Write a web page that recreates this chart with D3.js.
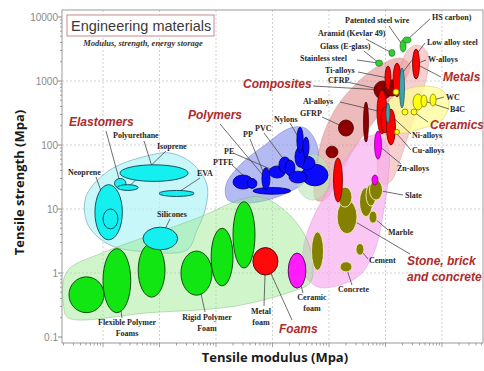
<!DOCTYPE html>
<html>
<head>
<meta charset="utf-8">
<script src="https://cdn.jsdelivr.net/npm/d3@7"></script>
<style>
  html, body { margin: 0; padding: 0; background: #fff; }
  svg { display: block; }
</style>
</head>
<body>
<svg id="chart" width="484" height="371"></svg>
<script>
// ---- Axis ticks -------------------------------------------------------
const strengthTicks = [0.1, 1, 10, 100, 1000, 10000];
const strengthTickLabels = ["0.1", "1", "10", "100", "1000", "10000"];
const modulusGrid = [1, 10, 100, 1e3, 1e4, 1e5, 1e6];

// ---- Material property bubbles: modulus range E and strength range S, MPa ----
const foams = [
  { name: "Flexible foam VLD", E: [0.25, 1.04], S: [0.24, 0.87] },
  { name: "Flexible foam LD",  E: [1, 3.1],     S: [0.24, 2.4] },
  { name: "Flexible foam MD",  E: [4.2, 12.5],  S: [0.42, 2.9] },
  { name: "Rigid foam LD",     E: [24, 85],     S: [0.45, 2.2] },
  { name: "Rigid foam MD",     E: [82, 200],    S: [0.63, 5] },
  { name: "Rigid foam HD",     E: [200, 490],   S: [1.2, 13] }
];
const metalFoams   = [{ name: "Metal foam",   E: [450, 1250],  S: [0.93, 2.5] }];
const ceramicFoams = [{ name: "Ceramic foam", E: [1900, 3900], S: [0.58, 2.05] }];

const elastomers = [
  { name: "Neoprene",       E: [0.72, 2.2], S: [3.3, 24] },
  { name: "Natural rubber", E: [1, 1.84],   S: [4.9, 10] },
  { name: "Polyurethane",   E: [2, 32],     S: [27, 49] },
  { name: "Butyl rubber",   E: [1.6, 2.55], S: [21, 30] },
  { name: "Isoprene",       E: [1.8, 4.2],  S: [19.5, 24] },
  { name: "EVA",            E: [9.8, 41],   S: [15.7, 19.5] },
  { name: "Silicones",      E: [5.1, 21],   S: [2.3, 5.2] }
];

const polymers = [
  { name: "Epoxies", E: [3300, 9600], S: [23, 50] },
  { name: "PTFE",    E: [200, 450],   S: [20.5, 34] },
  { name: "Ionomer", E: [355, 530],   S: [21, 30] },
  { name: "LDPE",    E: [450, 2100],  S: [17, 21.7] },
  { name: "PE",      E: [870, 1670],  S: [30.5, 47] },
  { name: "PP",      E: [650, 900],   S: [20, 44] },
  { name: "ABS",     E: [1300, 2100], S: [36.5, 65] },
  { name: "PVC",     E: [1670, 2500], S: [33, 58] },
  { name: "PS",      E: [1960, 4080], S: [25.5, 39] },
  { name: "PC",      E: [2950, 5650], S: [41, 67] },
  { name: "PMMA",    E: [2500, 3760], S: [45, 93] },
  { name: "Nylons",  E: [2700, 3500], S: [75, 190] },
  { name: "PEEK",    E: [3470, 4430], S: [65, 133] }
];

const stones = [
  { name: "Brick",     E: [4900, 8000],   S: [1.1, 4.4] },
  { name: "Limestone", E: [13900, 31300], S: [4.1, 13.8] },
  { name: "Sandstone", E: [14400, 25500], S: [10.7, 22] },
  { name: "Granite",   E: [34700, 58900], S: [7.6, 21.7] },
  { name: "Stone",     E: [45200, 67900], S: [11.1, 24.6] },
  { name: "Slate",     E: [52100, 88500], S: [13.8, 28.4] },
  { name: "Marble",    E: [51000, 70800], S: [6.0, 9.3] },
  { name: "Cement",    E: [30000, 41600], S: [1.9, 2.9] },
  { name: "Concrete",  E: [15700, 25500], S: [1.04, 1.5] }
];

const composites = [
  { name: "CFRP",        E: [62500, 130000], S: [523, 1000] },
  { name: "CFRP woven",  E: [94000, 181000], S: [583, 1040] },
  { name: "GFRP",        E: [14700, 27100],  S: [138, 246] },
  { name: "GFRP mat",    E: [8850, 14400],   S: [63, 96] },
  { name: "KFRP",        E: [40800, 50000],  S: [111, 470] }
];

const metals = [
  { name: "W-alloys",        E: [301000, 400000], S: [1075, 3160] },
  { name: "Low alloy steel", E: [136000, 188000], S: [562, 1910] },
  { name: "Ti-alloys",       E: [98000, 125000],  S: [723, 1715] },
  { name: "Al-alloys",       E: [70800, 106000],  S: [149, 723] },
  { name: "Cast irons",      E: [83200, 115000],  S: [154, 393] },
  { name: "Cu-alloys",       E: [104000, 150000], S: [100, 365] },
  { name: "Lead alloys",     E: [12000, 17300],   S: [12.9, 62.6] }
];
const steels = [
  { name: "Stainless steel", E: [177000, 217000], S: [379, 1600] },
  { name: "Ni-alloys",       E: [102000, 120000], S: [221, 453] }
];
const zincAlloys = [
  { name: "Zn-alloys",    E: [63900, 84900], S: [60, 166] },
  { name: "Zn die-cast",  E: [57700, 73600], S: [23.7, 34] }
];
const fibres = [
  { name: "Glass (E-glass)",     E: [66500, 88500],   S: [1700, 2130] },
  { name: "Aramid (Kevlar 49)",  E: [115000, 147000], S: [2420, 3100] },
  { name: "Patented steel wire", E: [181000, 231000], S: [2840, 4380] },
  { name: "HS carbon",           E: [204000, 283000], S: [3930, 4870] }
];
const ceramics = [
  { name: "Alumina",       E: [307000, 461000], S: [352, 627] },
  { name: "B4C",           E: [425000, 543000], S: [393, 604] },
  { name: "WC",            E: [613000, 783000], S: [407, 627] },
  { name: "Silicon",       E: [196000, 250000], S: [294, 365] },
  { name: "SiC",           E: [283000, 361000], S: [294, 365] },
  { name: "Zirconia",      E: [136000, 173000], S: [604, 750] },
  { name: "Glass ceramic", E: [144000, 177000], S: [146, 175] }
];

// ---- Family envelopes: outline points [modulus, strength], MPa ----
const elastomerZone = [[0.48,13.8],[0.665,23.7],[1.5,43.7],[5.1,65],[15.3,75],[39.2,50.5],[69.3,23.7],[64,9.65],[46.1,4.69],[30.7,2.29],[6.8,2.13],[1.33,2.74],[0.543,5.62]];
const polymerZone = [[163,13.8],[150,23.7],[266,48.7],[736,100],[2040,184],[3760,184],[5890,111],[6390,54.2],[3760,26.4],[1360,16],[400,12.4]];
const compositeZone = [[181000,2290],[272000,1780],[221000,1040],[120000,505],[65200,246],[35400,120],[19200,48.7],[12800,23.7],[8490,13.8],[5890,13.8],[5430,28.4],[6390,69.8],[8490,171],[14400,422],[28800,866],[65200,1600]];
const metalZone = [[361000,3650],[543000,2840],[565000,1490],[408000,505],[272000,171],[181000,58.3],[130000,28.4],[94000,23.7],[73600,34],[73600,83.5],[90300,246],[130000,723],[196000,1980],[250000,3050]];
const stoneZone = [[3760,0.93],[3470,2.29],[5000,6.73],[9600,19.8],[19200,58.3],[38400,120],[73600,143],[111000,89.8],[111000,28.4],[90300,8.06],[65200,2.29],[35400,0.93],[15700,0.649],[6390,0.604]];
const ceramicZone = [[106000,246],[120000,505],[221000,723],[500000,835],[1.0e6,723],[1.33e6,453],[1.0e6,246],[408000,178],[181000,154]];
const foamZone = [[0.2,0.31],[0.2,0.78],[0.26,1.2],[0.89,2.0],[10,4.4],[52,7.5],[270,14],[650,15.4],[2000,8.1],[4100,3.3],[5200,1.33],[4600,0.7],[2000,0.5],[200,0.3],[6.8,0.24],[0.24,0.2]];
const naturalZone = { E: [2600, 10400], S: [13.8, 72] };

// ---- Layout ----
const frame = { left: 62, right: 483, top: 10, bottom: 343 };

const svg = d3.select("#chart");
const x = d3.scaleLog().domain([1, 1e6]).range([103, 442]);
const y = d3.scaleLog().domain([0.1, 10000]).range([337, 17]);

svg.append("defs").append("clipPath").attr("id", "plotClip")
  .append("rect")
  .attr("x", frame.left).attr("y", frame.top)
  .attr("width", frame.right - frame.left).attr("height", frame.bottom - frame.top);

// grid
const grid = svg.append("g").attr("stroke", "#c4c4c4").attr("stroke-width", 0.8)
  .attr("stroke-dasharray", "2,2");
grid.selectAll("line.h").data(strengthTicks.slice(1, -1)).join("line")
  .attr("x1", frame.left).attr("x2", frame.right)
  .attr("y1", d => y(d)).attr("y2", d => y(d));
grid.selectAll("line.v").data(modulusGrid).join("line")
  .attr("y1", frame.top).attr("y2", frame.bottom)
  .attr("x1", d => x(d)).attr("x2", d => x(d));

const plot = svg.append("g").attr("clip-path", "url(#plotClip)");

// envelopes
const outline = d3.line()
  .x(d => x(d[0])).y(d => y(d[1]))
  .curve(d3.curveCatmullRomClosed.alpha(0.5));

function zone(points, fill, stroke) {
  plot.append("path").attr("d", outline(points))
    .attr("fill", fill).attr("stroke", stroke).attr("stroke-width", 0.7);
}
zone(elastomerZone, "rgba(182,244,248,0.75)", "rgba(90,150,170,0.8)");
zone(polymerZone,   "rgba(140,150,235,0.65)", "rgba(110,120,200,0.7)");
zone(compositeZone, "rgba(222,132,132,0.55)", "rgba(200,120,120,0.5)");
zone(metalZone,     "rgba(242,168,168,0.55)", "rgba(210,130,130,0.5)");
zone(stoneZone,     "rgba(248,172,240,0.68)", "rgba(215,140,210,0.6)");
zone(ceramicZone,   "rgba(255,252,150,0.75)", "rgba(200,200,110,0.7)");
zone(foamZone,      "rgba(150,232,140,0.45)", "rgba(110,180,110,0.6)");

function bubble(d) {
  const x0 = x(d.E[0]), x1 = x(d.E[1]), y0 = y(d.S[1]), y1 = y(d.S[0]);
  return { cx: (x0 + x1) / 2, cy: (y0 + y1) / 2, rx: (x1 - x0) / 2, ry: (y1 - y0) / 2 };
}
{
  const b = bubble(naturalZone);
  plot.append("ellipse").attr("cx", b.cx).attr("cy", b.cy).attr("rx", b.rx).attr("ry", b.ry)
    .attr("fill", "rgba(185,228,185,0.6)").attr("stroke", "rgba(140,190,140,0.6)").attr("stroke-width", 0.6);
}

// lookup of every bubble by name
const allMaterials = [].concat(foams, metalFoams, ceramicFoams, elastomers, polymers,
  stones, composites, metals, steels, zincAlloys, fibres, ceramics);
const byName = new Map(allMaterials.map(d => [d.name, d]));

// ---- Annotations: label text, text anchor, leader start, target bubble ----
const annotations = [
  { lines: ["Polyurethane"], at: [113, 138], from: [144, 141], to: "Polyurethane" },
  { lines: ["Isoprene"], at: [157, 149], from: [166, 151], to: "Isoprene" },
  { lines: ["Neoprene"], at: [68, 175], from: [96, 177], to: "Neoprene" },
  { lines: ["EVA"], at: [197, 176], from: [200, 178], to: "EVA" },
  { lines: ["Silicones"], at: [157, 217], from: [170, 219], to: "Silicones" },
  { lines: ["PE"], at: [224, 154], from: [233, 153], to: "PE" },
  { lines: ["PTFE"], at: [213, 165], from: [232, 165], to: "Ionomer" },
  { lines: ["PP"], at: [243, 137], from: [250, 139], to: "PP" },
  { lines: ["PVC"], at: [255, 131], from: [264, 133], to: "PVC" },
  { lines: ["Nylons"], at: [274, 122], from: [290, 123], to: "Nylons" },
  { lines: ["Patented steel wire"], at: [345, 23], from: [389, 26], to: "Patented steel wire" },
  { lines: ["HS carbon)"], at: [432, 20], from: [430, 19], to: "HS carbon" },
  { lines: ["Aramid (Kevlar 49)"], at: [318, 36], from: [366, 39], to: "Aramid (Kevlar 49)" },
  { lines: ["Glass (E-glass)"], at: [320, 49], from: [364, 51], to: "Glass (E-glass)" },
  { lines: ["Stainless steel"], at: [300, 61], from: [357, 60], to: "Glass (E-glass)" },
  { lines: ["Ti-alloys"], at: [325, 73], from: [358, 72], to: "Ti-alloys" },
  { lines: ["CFRP"], at: [328, 83], from: [347, 82], to: "CFRP" },
  { lines: ["Al-alloys"], at: [303, 104], from: [340, 102], to: "Al-alloys" },
  { lines: ["GFRP"], at: [300, 116], from: [322, 117], to: "GFRP" },
  { lines: ["Low alloy steel"], at: [427, 45], from: [425, 43], to: "Low alloy steel" },
  { lines: ["W-alloys"], at: [428, 62], from: [426, 60], to: "W-alloys" },
  { lines: ["WC"], at: [446, 100], from: [444, 97], to: "WC" },
  { lines: ["B4C"], at: [450, 112], from: [449, 109], to: "B4C" },
  { lines: ["Ni-alloys"], at: [412, 138], from: [411, 134], to: "Ni-alloys" },
  { lines: ["Cu-alloys"], at: [412, 153], from: [411, 150], to: "Cu-alloys" },
  { lines: ["Zn-alloys"], at: [397, 171], from: [401, 164], to: "Zn-alloys" },
  { lines: ["Slate"], at: [405, 198], from: [403, 195], to: "Slate" },
  { lines: ["Marble"], at: [388, 235], from: [388, 230], to: "Marble" },
  { lines: ["Cement"], at: [369, 263], from: [368, 259], to: "Cement" },
  { lines: ["Concrete"], at: [338, 292], from: [352, 285], to: "Concrete" },
  { lines: ["Flexible Polymer", "Foams"], at: [127, 325], middle: true, from: [122, 318], to: "Flexible foam LD" },
  { lines: ["Rigid Polymer", "Foam"], at: [207, 320], middle: true, from: [205, 312], to: "Rigid foam LD" },
  { lines: ["Metal", "foam"], at: [261, 314], middle: true, from: [264, 306], to: "Metal foam" },
  { lines: ["Ceramic", "foam"], at: [312, 300], middle: true, from: [303, 293], to: "Ceramic foam" }
];
const families = [
  { lines: ["Elastomers"], at: [69, 126], from: [106, 131], to: "Butyl rubber" },
  { lines: ["Polymers"], at: [188, 119], from: [220, 124], to: "PP" },
  { lines: ["Composites"], at: [243, 88], from: [313, 86], to: "CFRP" },
  { lines: ["Metals"], at: [443, 81], from: [441, 77], to: "W-alloys" },
  { lines: ["Ceramics"], at: [430, 129], from: [428, 122], to: "SiC" },
  { lines: ["Stone, brick", "and concrete"], at: [407, 265], from: [410, 254], to: "Limestone" },
  { lines: ["Foams"], at: [279, 333], from: [292, 320], to: "Metal foam" }
];

// leader lines (beneath the bubbles, so they stop at each bubble's edge)
const leaders = svg.append("g").attr("stroke", "#4a4a4a").attr("stroke-width", 0.8);
annotations.concat(families).forEach(a => {
  const b = bubble(byName.get(a.to));
  leaders.append("line")
    .attr("x1", a.from[0]).attr("y1", a.from[1])
    .attr("x2", b.cx).attr("y2", b.cy);
});

// bubbles
function drawBubbles(data, fill, stroke, width) {
  svg.append("g").attr("clip-path", "url(#plotClip)")
    .selectAll("ellipse").data(data).join("ellipse")
    .each(function (d) {
      const b = bubble(d);
      d3.select(this).attr("cx", b.cx).attr("cy", b.cy).attr("rx", b.rx).attr("ry", b.ry);
    })
    .attr("fill", fill).attr("stroke", stroke).attr("stroke-width", width);
}
drawBubbles(foams, "#12e612", "#0a3a0a", 0.9);
drawBubbles(metalFoams, "#ff0a0a", "#4a0000", 0.9);
drawBubbles(ceramicFoams, "#ff1cff", "#4a004a", 0.9);
drawBubbles(elastomers, "#14f0f0", "#0b4050", 0.9);
drawBubbles(polymers, "#0a0aff", "#000060", 0.8);
drawBubbles(stones, "#858000", "#eef0b8", 0.9);
drawBubbles(composites, "#8e0000", "#500000", 0.8);
drawBubbles(metals, "#ff0000", "#600000", 0.8);
drawBubbles(steels, "#3aa6b0", "#1b4c55", 0.7);
drawBubbles(zincAlloys, "#ff00ff", "#600060", 0.7);
drawBubbles(fibres, "#2fd02f", "#176017", 0.6);
drawBubbles(ceramics, "#ffff10", "#808000", 0.8);

// label text
function drawLabel(a, cls) {
  const t = svg.append("text").attr("class", cls)
    .attr("x", a.at[0]).attr("y", a.at[1])
    .attr("text-anchor", a.middle ? "middle" : "start");
  a.lines.forEach((s, i) => {
    t.append("tspan").attr("x", a.at[0]).attr("dy", i === 0 ? 0 : (cls === "fam" ? 16 : 11)).text(s);
  });
}
annotations.forEach(a => drawLabel(a, "mat"));
families.forEach(a => drawLabel(a, "fam"));

svg.selectAll("text.mat")
  .attr("font-family", "'Liberation Serif', 'DejaVu Serif', serif")
  .attr("font-weight", "bold").attr("font-size", 8).attr("fill", "#262626");
svg.selectAll("text.fam")
  .attr("font-family", "'Liberation Sans', Arial, sans-serif")
  .attr("font-weight", "bold").attr("font-style", "italic")
  .attr("font-size", 12).attr("fill", "#ad2b2b");

// frame and axes
svg.append("rect")
  .attr("x", frame.left).attr("y", frame.top)
  .attr("width", frame.right - frame.left).attr("height", frame.bottom - frame.top)
  .attr("fill", "none").attr("stroke", "#9a9a9a").attr("stroke-width", 1);

const yMinor = [];
for (let e = -1; e < 4; e++) for (let m = 2; m < 10; m++) yMinor.push(m * Math.pow(10, e));
const xMinor = [];
for (let e = -1; e < 7; e++) for (let m = 1; m < 10; m++) {
  const v = m * Math.pow(10, e);
  if (x(v) >= frame.left && x(v) <= frame.right) xMinor.push(v);
}

const yAxis = svg.append("g").attr("transform", `translate(${frame.left},0)`);
yAxis.selectAll("line.minor").data(yMinor).join("line")
  .attr("x1", -2).attr("x2", 0).attr("y1", d => y(d)).attr("y2", d => y(d))
  .attr("stroke", "#8a8a8a").attr("stroke-width", 0.8);
yAxis.selectAll("line.major").data(strengthTicks).join("line")
  .attr("x1", -4).attr("x2", 0).attr("y1", d => y(d)).attr("y2", d => y(d))
  .attr("stroke", "#8a8a8a").attr("stroke-width", 1);
yAxis.selectAll("text").data(strengthTicks).join("text")
  .attr("x", -4).attr("y", d => y(d)).attr("dy", "0.35em")
  .attr("text-anchor", "end")
  .attr("font-family", "'Liberation Sans', Arial, sans-serif")
  .attr("font-size", 10).attr("fill", "#8a8a8a")
  .text((d, i) => strengthTickLabels[i]);

const xAxis = svg.append("g").attr("transform", `translate(0,${frame.bottom})`);
xAxis.selectAll("line").data(xMinor).join("line")
  .attr("x1", d => x(d)).attr("x2", d => x(d))
  .attr("y1", 0).attr("y2", d => (modulusGrid.includes(d) ? 4 : 2.5))
  .attr("stroke", "#8a8a8a").attr("stroke-width", 0.8);

// title box
svg.append("rect").attr("x", 67).attr("y", 15).attr("width", 147).attr("height", 21)
  .attr("fill", "#fff").attr("stroke", "#c98a8a").attr("stroke-width", 1);
svg.append("text").attr("x", 71).attr("y", 31)
  .attr("font-family", "'Liberation Sans', Arial, sans-serif")
  .attr("font-size", 14.5).attr("fill", "#3a3a3a")
  .text("Engineering materials");
svg.append("text").attr("x", 143).attr("y", 46).attr("text-anchor", "middle")
  .attr("font-family", "'Liberation Serif', serif")
  .attr("font-size", 8.5).attr("font-style", "italic").attr("font-weight", "bold")
  .attr("fill", "#333")
  .text("Modulus, strength, energy storage");

// axis titles
svg.append("text")
  .attr("transform", `translate(24,${(frame.top + frame.bottom) / 2 + 6}) rotate(-90)`)
  .attr("text-anchor", "middle")
  .attr("font-family", "'Open Sans', 'Noto Sans', sans-serif")
  .attr("font-weight", "bold").attr("font-size", 13).attr("fill", "#1a1a1a")
  .text("Tensile strength (Mpa)");
svg.append("text")
  .attr("x", 275).attr("y", 362).attr("text-anchor", "middle")
  .attr("font-family", "'Open Sans', 'Noto Sans', sans-serif")
  .attr("font-weight", "bold").attr("font-size", 13).attr("fill", "#1a1a1a")
  .text("Tensile modulus (Mpa)");
</script>
</body>
</html>
